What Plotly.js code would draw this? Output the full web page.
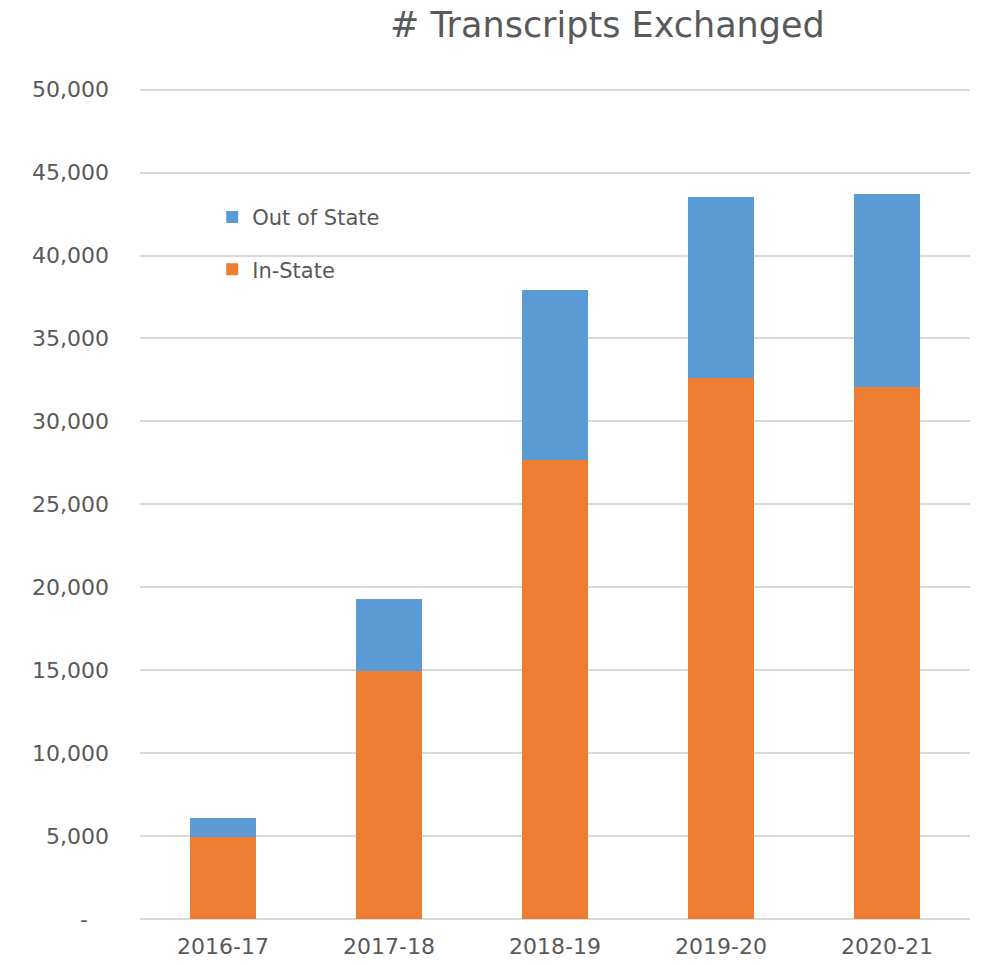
<!DOCTYPE html>
<html>
<head>
<meta charset="utf-8">
<script src="https://cdn.plot.ly/plotly-3.0.1.min.js"></script>
<style>html,body{margin:0;padding:0;background:#fff;}#chart{width:982px;height:965px;}</style>
</head>
<body>
<div id="chart"></div>
<script>
const years = ["2016-17", "2017-18", "2018-19", "2019-20", "2020-21"];
const inState = [4950, 14980, 27700, 32600, 32050];
const outOfState = [1120, 4320, 10200, 10950, 11650];
const yTickVals = [0, 5000, 10000, 15000, 20000, 25000, 30000, 35000, 40000, 45000, 50000];
const yTickText = ["-   ", "5,000", "10,000", "15,000", "20,000", "25,000", "30,000", "35,000", "40,000", "45,000", "50,000"];

const font = "'DejaVu Sans', sans-serif";

const traces = [
  {type: "bar", name: "In-State", x: years, y: inState, marker: {color: "#ed7d31"},
   legendgroup: "in", legendrank: 2, hoverinfo: "y"},
  {type: "bar", name: "Out of State", x: years, y: outOfState, marker: {color: "#5b9bd5"},
   legendgroup: "out", legendrank: 1, hoverinfo: "y"}
];

const layout = {
  width: 982, height: 965,
  barmode: "stack",
  bargap: 0.6,
  paper_bgcolor: "#fff", plot_bgcolor: "#fff",
  margin: {l: 140, r: 12, t: 88, b: 46},
  font: {family: font, color: "#595959"},
  title: {text: "# Transcripts Exchanged", x: 0.6185, xanchor: "center", y: 0.974, yanchor: "middle",
          font: {size: 35, color: "#595959", family: font}},
  xaxis: {tickfont: {size: 22, color: "#595959"}, showgrid: false, zeroline: false, showline: false,
          ticks: "outside", ticklen: 8, tickcolor: "rgba(0,0,0,0)"},
  yaxis: {range: [0, 50100], tickvals: yTickVals, ticktext: yTickText,
          tickfont: {size: 22, color: "#595959"}, showgrid: true, gridcolor: "#d9d9d9", gridwidth: 2,
          zeroline: true, zerolinecolor: "#d9d9d9", zerolinewidth: 2, showline: false,
          ticklabelstandoff: 30},
  legend: {traceorder: "grouped", x: 0.087, y: 0.869, xanchor: "left", yanchor: "top",
           font: {size: 21, color: "#595959"}, bgcolor: "rgba(0,0,0,0)", tracegroupgap: 22,
           itemwidth: 30}
};

Plotly.newPlot("chart", traces, layout, {displayModeBar: false, staticPlot: true});
</script>
</body>
</html>
